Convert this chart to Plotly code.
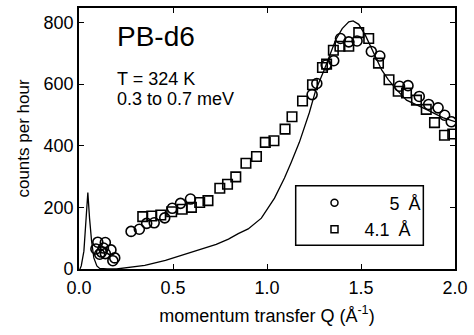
import plotly.graph_objects as go

# 5 Å data (circles)
q_5A = [0.10, 0.14, 0.09, 0.13, 0.11, 0.14, 0.17, 0.19, 0.18, 0.12,
        0.277, 0.321, 0.36, 0.40, 0.456, 0.496, 0.54, 0.593,
        1.24, 1.265, 1.315, 1.355, 1.391, 1.435, 1.479, 1.555, 1.60,
        1.705, 1.75, 1.81, 1.86, 1.91, 1.945, 1.98]
c_5A = [87, 86, 65, 68, 48, 50, 62, 36, 27, 55,
        122, 129, 148, 150, 166, 197, 213, 227,
        566, 602, 662, 676, 748, 737, 740, 706, 691,
        593, 595, 560, 534, 523, 499, 478]

# 4.1 Å data (squares)
q_41A = [0.339, 0.387, 0.435, 0.493, 0.549, 0.598, 0.642, 0.686, 0.749, 0.79,
         0.834, 0.888, 0.944, 0.991, 1.037, 1.096, 1.133, 1.189, 1.242, 1.295,
         1.317, 1.353, 1.388, 1.435, 1.488, 1.541, 1.593, 1.649, 1.698, 1.742,
         1.795, 1.847, 1.891, 1.944, 1.988]
c_41A = [170, 172, 175, 186, 194, 200, 216, 222, 262, 275,
         299, 343, 365, 411, 416, 454, 494, 545, 598, 654,
         665, 710, 723, 723, 767, 748, 668, 614, 577, 571,
         548, 518, 475, 434, 438]

# model curve
q_model = [0.005, 0.012, 0.026, 0.039, 0.047, 0.056, 0.067, 0.079, 0.095, 0.11,
           0.15, 0.2, 0.268, 0.35, 0.46, 0.55, 0.637, 0.73, 0.795, 0.847,
           0.9, 0.97, 1.04, 1.093, 1.128, 1.172, 1.225, 1.26, 1.304, 1.365,
           1.4, 1.435, 1.458, 1.488, 1.523, 1.567, 1.61, 1.646, 1.689, 1.742,
           1.8, 1.847, 1.935, 2.0]
c_model = [0, 10, 58, 165, 248, 165, 90, 36, 10, 2,
           0, 0, 5, 12, 28, 45, 62, 80, 97, 115,
           130, 165, 230, 295, 345, 411, 507, 582, 646, 743,
           780, 802, 805, 794, 759, 700, 646, 614, 582, 548,
           532, 518, 491, 478]

x_ticks = [0.0, 0.5, 1.0, 1.5, 2.0]
y_ticks = [0, 200, 400, 600, 800]

FONT = "Liberation Sans, Arial, sans-serif"

fig = go.Figure()
fig.add_trace(go.Scatter(x=q_model, y=c_model, mode="lines",
                         line=dict(color="black", width=1.3), showlegend=False))
fig.add_trace(go.Scatter(x=q_5A, y=c_5A, mode="markers", showlegend=False,
                         marker=dict(symbol="circle-open", size=10, color="black",
                                     line=dict(width=1.6, color="black"))))
fig.add_trace(go.Scatter(x=q_41A, y=c_41A, mode="markers", showlegend=False,
                         marker=dict(symbol="square-open", size=9.5, color="black",
                                     line=dict(width=1.6, color="black"))))
# legend entries
fig.add_trace(go.Scatter(x=[None], y=[None], mode="markers",
                         name="\u2007\u2007\u2007\u20085\u2002Å",
                         marker=dict(symbol="circle-open", size=7, color="black",
                                     line=dict(width=1.5, color="black"))))
fig.add_trace(go.Scatter(x=[None], y=[None], mode="markers",
                         name="\u20074.1\u2002Å",
                         marker=dict(symbol="square-open", size=7, color="black",
                                     line=dict(width=1.5, color="black"))))

fig.add_shape(type="rect", xref="paper", yref="paper",
              x0=(298 - 79) / 380, x1=(427 - 79) / 380,
              y0=(269 - 245) / 263, y1=(269 - 185) / 263,
              line=dict(color="black", width=1.5))

axis_common = dict(showline=True, linecolor="black", linewidth=1.6, mirror="ticks",
                   ticks="inside", ticklen=5, tickwidth=1.3, tickcolor="black",
                   showgrid=False, zeroline=False,
                   tickfont=dict(family=FONT, size=18, color="black"))

fig.update_xaxes(range=[0, 2], tickvals=x_ticks, tickformat=".1f", ticklabelstandoff=2,
                 title=dict(text="momentum transfer Q (Å<sup>-1</sup>)",
                            font=dict(family=FONT, size=18, color="black"), standoff=12),
                 **axis_common)
fig.update_yaxes(range=[0, 847], tickvals=y_ticks,
                 title=dict(text="counts per hour",
                            font=dict(family=FONT, size=17, color="black"), standoff=10),
                 **axis_common)

fig.add_annotation(text="PB-d6", xref="paper", yref="paper", x=(115 - 79) / 380,
                   y=(269 - 35) / 263, xanchor="left", yanchor="middle", showarrow=False,
                   font=dict(family=FONT, size=28, color="black"))
fig.add_annotation(text="T = 324 K", xref="paper", yref="paper", x=(115 - 79) / 380,
                   y=(269 - 77.5) / 263, xanchor="left", yanchor="middle", showarrow=False,
                   font=dict(family=FONT, size=18, color="black"))
fig.add_annotation(text="0.3 to 0.7 meV", xref="paper", yref="paper", x=(115 - 79) / 380,
                   y=(269 - 97.5) / 263, xanchor="left", yanchor="middle", showarrow=False,
                   font=dict(family=FONT, size=18, color="black"))

fig.update_layout(
    width=474, height=335,
    margin=dict(l=79, r=15, t=6, b=66),
    plot_bgcolor="white", paper_bgcolor="white",
    font=dict(family=FONT, size=18, color="black"),
    legend=dict(x=(317 - 79) / 380, y=(269 - 184) / 263, xanchor="left", yanchor="top",
                bgcolor="rgba(0,0,0,0)", borderwidth=0,
                font=dict(family=FONT, size=18, color="black"),
                itemwidth=30, tracegroupgap=0),
)

fig.write_html("out.html")
